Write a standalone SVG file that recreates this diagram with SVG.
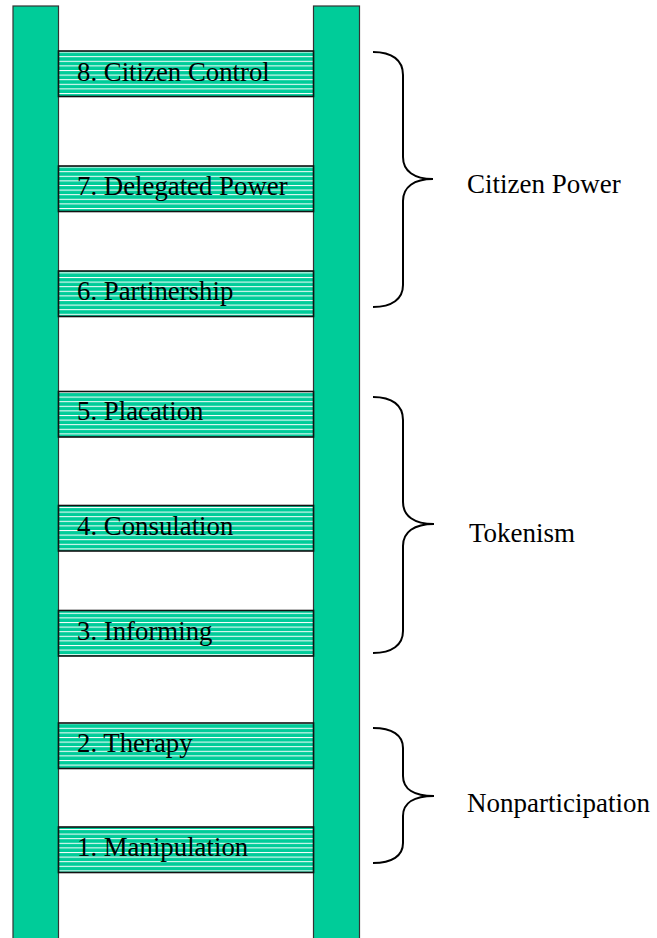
<svg xmlns="http://www.w3.org/2000/svg" width="657" height="938" viewBox="0 0 657 938">
<defs>
<pattern id="stripes" patternUnits="userSpaceOnUse" x="0" y="1" width="20" height="4.6">
<rect x="0" y="0" width="20" height="4.6" fill="#00CC99"/>
<rect x="0" y="0" width="20" height="1" fill="#ffffff"/>
</pattern>
</defs>
<style>
.rail{fill:#00CC99;stroke:#333333;stroke-width:1.2}
.rung{fill:url(#stripes);stroke:#111111;stroke-width:1.6}
.rt{font-family:'Liberation Serif','Times New Roman',serif;font-size:26.8px;fill:#000000}
.lbl{font-family:'Liberation Serif','Times New Roman',serif;font-size:27px;fill:#000000}
.brace{fill:none;stroke:#000000;stroke-width:2}
</style>
<rect width="657" height="938" fill="#ffffff"/>
<g id="rails">
<rect class="rail" x="13" y="6" width="45.5" height="945"/>
<rect class="rail" x="313.5" y="6" width="46" height="945"/>
</g>
<g id="rung8"><rect class="rung" x="58.5" y="51" width="255" height="45.5"/><text class="rt" x="77" y="81">8. Citizen Control</text></g>
<g id="rung7"><rect class="rung" x="58.5" y="166" width="255" height="45.5"/><text class="rt" x="77" y="195">7. Delegated Power</text></g>
<g id="rung6"><rect class="rung" x="58.5" y="271" width="255" height="45.5"/><text class="rt" x="77" y="300">6. Partinership</text></g>
<g id="rung5"><rect class="rung" x="58.5" y="391.5" width="255" height="45.5"/><text class="rt" x="77" y="420">5. Placation</text></g>
<g id="rung4"><rect class="rung" x="58.5" y="505.5" width="255" height="45.5"/><text class="rt" x="77" y="535">4. Consulation</text></g>
<g id="rung3"><rect class="rung" x="58.5" y="610.5" width="255" height="45.5"/><text class="rt" x="77" y="640">3. Informing</text></g>
<g id="rung2"><rect class="rung" x="58.5" y="723" width="255" height="45.5"/><text class="rt" x="77" y="752">2. Therapy</text></g>
<g id="rung1"><rect class="rung" x="58.5" y="827" width="255" height="45.5"/><text class="rt" x="77" y="856">1. Manipulation</text></g>
<g id="connectors">
<path class="brace" d="M373,52 C392,52 403,60 403,75 L403,157 C403,171 414,179 433,179 C414,179 403,187 403,201 L403,285 C403,299 392,307 373,307"/>
<path class="brace" d="M373,397 C392,397 403,405 403,420 L403,502 C403,516 414,524 434,524 C414,524 403,532 403,546 L403,631 C403,645 392,653 373,653"/>
<path class="brace" d="M373,728 C392,728 403,735 403,748 L403,776 C403,789 414,796 434,796 C414,796 403,803 403,816 L403,843 C403,856 392,863 373,863"/>
</g>
<g id="label-citizen-power"><text class="lbl" x="467" y="193">Citizen Power</text></g>
<g id="label-tokenism"><text class="lbl" x="469" y="542">Tokenism</text></g>
<g id="label-nonparticipation"><text class="lbl" x="467" y="812">Nonparticipation</text></g>
</svg>
